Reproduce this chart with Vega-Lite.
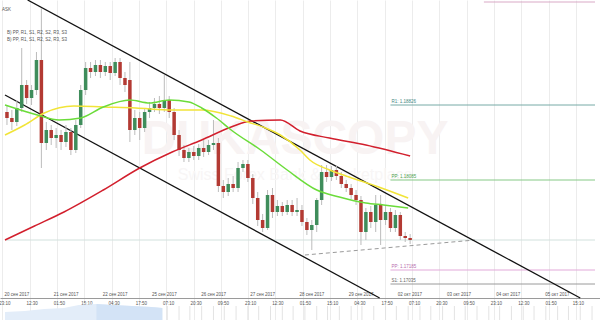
{
  "$schema": "https://vega.github.io/schema/vega-lite/v6.json",
  "width": 600,
  "height": 320,
  "autosize": "none",
  "padding": 0,
  "background": "white",
  "config": {"view": {"stroke": null}, "font": "Liberation Sans"},
  "resolve": {"axis": {"x": "independent"}},
  "datasets": {
    "candles": [
      {"t":1.44,"o":1.1876,"c":1.1870,"h":1.1883,"l":1.1863},
      {"t":3.84,"o":1.1870,"c":1.1866,"h":1.1878,"l":1.1858},
      {"t":6.24,"o":1.1866,"c":1.1880,"h":1.1888,"l":1.1862},
      {"t":8.64,"o":1.1880,"c":1.1903,"h":1.1940,"l":1.1876},
      {"t":11.04,"o":1.1903,"c":1.1890,"h":1.1908,"l":1.1884},
      {"t":13.44,"o":1.1890,"c":1.1898,"h":1.1903,"l":1.1883},
      {"t":15.84,"o":1.1898,"c":1.1928,"h":1.1936,"l":1.1893},
      {"t":18.24,"o":1.1928,"c":1.1845,"h":1.1980,"l":1.1820},
      {"t":20.64,"o":1.1845,"c":1.1858,"h":1.1866,"l":1.1838},
      {"t":23.04,"o":1.1858,"c":1.1850,"h":1.1863,"l":1.1843},
      {"t":25.44,"o":1.1850,"c":1.1853,"h":1.1860,"l":1.1840},
      {"t":27.84,"o":1.1853,"c":1.1846,"h":1.1858,"l":1.1838},
      {"t":30.24,"o":1.1846,"c":1.1856,"h":1.1863,"l":1.1841},
      {"t":32.64,"o":1.1856,"c":1.1838,"h":1.1860,"l":1.1833},
      {"t":35.04,"o":1.1838,"c":1.1863,"h":1.1868,"l":1.1835},
      {"t":37.44,"o":1.1863,"c":1.1898,"h":1.1903,"l":1.1860},
      {"t":39.84,"o":1.1898,"c":1.1920,"h":1.1926,"l":1.1893},
      {"t":42.24,"o":1.1920,"c":1.1916,"h":1.1926,"l":1.1910},
      {"t":44.64,"o":1.1916,"c":1.1923,"h":1.1928,"l":1.1912},
      {"t":47.04,"o":1.1923,"c":1.1916,"h":1.1928,"l":1.1910},
      {"t":49.44,"o":1.1916,"c":1.1922,"h":1.1926,"l":1.1912},
      {"t":51.84,"o":1.1922,"c":1.1915,"h":1.1926,"l":1.1908},
      {"t":54.24,"o":1.1915,"c":1.1926,"h":1.1930,"l":1.1912},
      {"t":56.64,"o":1.1926,"c":1.1910,"h":1.1930,"l":1.1903},
      {"t":59.04,"o":1.1910,"c":1.1903,"h":1.1916,"l":1.1896},
      {"t":61.44,"o":1.1908,"c":1.1858,"h":1.1926,"l":1.1846},
      {"t":63.84,"o":1.1858,"c":1.1870,"h":1.1878,"l":1.1853},
      {"t":66.24,"o":1.1870,"c":1.1860,"h":1.1876,"l":1.1848},
      {"t":68.64,"o":1.1860,"c":1.1876,"h":1.1880,"l":1.1856},
      {"t":71.04,"o":1.1876,"c":1.1880,"h":1.1886,"l":1.1870},
      {"t":73.44,"o":1.1880,"c":1.1884,"h":1.1890,"l":1.1876},
      {"t":75.84,"o":1.1884,"c":1.1880,"h":1.1892,"l":1.1874},
      {"t":78.24,"o":1.1880,"c":1.1888,"h":1.1913,"l":1.1876},
      {"t":80.64,"o":1.1888,"c":1.1876,"h":1.1892,"l":1.1870},
      {"t":83.04,"o":1.1876,"c":1.1853,"h":1.1880,"l":1.1848},
      {"t":85.44,"o":1.1853,"c":1.1838,"h":1.1858,"l":1.1832},
      {"t":87.84,"o":1.1838,"c":1.1830,"h":1.1843,"l":1.1826},
      {"t":90.24,"o":1.1830,"c":1.1836,"h":1.1840,"l":1.1826},
      {"t":92.64,"o":1.1836,"c":1.1832,"h":1.1842,"l":1.1828},
      {"t":95.04,"o":1.1832,"c":1.1840,"h":1.1844,"l":1.1828},
      {"t":97.44,"o":1.1840,"c":1.1836,"h":1.1848,"l":1.1831},
      {"t":99.84,"o":1.1836,"c":1.1843,"h":1.1848,"l":1.1833},
      {"t":102.24,"o":1.1843,"c":1.1845,"h":1.1868,"l":1.1838},
      {"t":104.64,"o":1.1845,"c":1.1802,"h":1.1850,"l":1.1796},
      {"t":107.04,"o":1.1802,"c":1.1796,"h":1.1808,"l":1.1790},
      {"t":109.44,"o":1.1796,"c":1.1804,"h":1.1810,"l":1.1792},
      {"t":111.84,"o":1.1804,"c":1.1800,"h":1.1812,"l":1.1796},
      {"t":114.24,"o":1.1800,"c":1.1820,"h":1.1826,"l":1.1796},
      {"t":116.64,"o":1.1820,"c":1.1824,"h":1.1828,"l":1.1816},
      {"t":119.04,"o":1.1824,"c":1.1810,"h":1.1828,"l":1.1806},
      {"t":121.44,"o":1.1810,"c":1.1790,"h":1.1814,"l":1.1784},
      {"t":123.84,"o":1.1790,"c":1.1768,"h":1.1796,"l":1.1762},
      {"t":126.24,"o":1.1768,"c":1.1760,"h":1.1774,"l":1.1756},
      {"t":128.64,"o":1.1760,"c":1.1793,"h":1.1798,"l":1.1758},
      {"t":131.04,"o":1.1793,"c":1.1776,"h":1.1800,"l":1.1770},
      {"t":133.44,"o":1.1776,"c":1.1782,"h":1.1788,"l":1.1772},
      {"t":135.84,"o":1.1782,"c":1.1776,"h":1.1786,"l":1.1772},
      {"t":138.24,"o":1.1776,"c":1.1783,"h":1.1788,"l":1.1773},
      {"t":140.64,"o":1.1783,"c":1.1776,"h":1.1788,"l":1.1772},
      {"t":143.04,"o":1.1776,"c":1.1778,"h":1.1790,"l":1.1772},
      {"t":145.44,"o":1.1778,"c":1.1766,"h":1.1783,"l":1.1762},
      {"t":147.84,"o":1.1766,"c":1.1758,"h":1.1770,"l":1.1753},
      {"t":150.24,"o":1.1758,"c":1.1763,"h":1.1768,"l":1.1738},
      {"t":152.64,"o":1.1763,"c":1.1788,"h":1.1790,"l":1.1756},
      {"t":155.04,"o":1.1788,"c":1.1816,"h":1.1823,"l":1.1783},
      {"t":157.44,"o":1.1816,"c":1.1811,"h":1.1823,"l":1.1806},
      {"t":159.84,"o":1.1811,"c":1.1818,"h":1.1822,"l":1.1807},
      {"t":162.24,"o":1.1818,"c":1.1812,"h":1.1822,"l":1.1808},
      {"t":164.64,"o":1.1812,"c":1.1804,"h":1.1816,"l":1.1800},
      {"t":167.04,"o":1.1804,"c":1.1800,"h":1.1808,"l":1.1796},
      {"t":169.44,"o":1.1800,"c":1.1793,"h":1.1804,"l":1.1789},
      {"t":171.84,"o":1.1793,"c":1.1788,"h":1.1798,"l":1.1783},
      {"t":174.24,"o":1.1788,"c":1.1756,"h":1.1792,"l":1.1743},
      {"t":176.64,"o":1.1756,"c":1.1776,"h":1.1780,"l":1.1748},
      {"t":179.04,"o":1.1776,"c":1.1766,"h":1.1782,"l":1.1760},
      {"t":181.44,"o":1.1766,"c":1.1783,"h":1.1793,"l":1.1756},
      {"t":183.84,"o":1.1783,"c":1.1768,"h":1.1793,"l":1.1743},
      {"t":186.24,"o":1.1768,"c":1.1776,"h":1.1783,"l":1.1763},
      {"t":188.64,"o":1.1776,"c":1.1760,"h":1.1780,"l":1.1756},
      {"t":191.04,"o":1.1760,"c":1.1773,"h":1.1778,"l":1.1756},
      {"t":193.44,"o":1.1773,"c":1.1752,"h":1.1776,"l":1.1748},
      {"t":195.84,"o":1.1752,"c":1.1750,"h":1.1756,"l":1.1746},
      {"t":198.24,"o":1.1750,"c":1.1748,"h":1.1754,"l":1.1744}
    ],
    "ma": [
      {"ma":"SMA 200","t":0.48,"p":1.1748},{"ma":"SMA 200","t":14.88,"p":1.1762},{"ma":"SMA 200","t":29.28,"p":1.1776},{"ma":"SMA 200","t":48.48,"p":1.1798},{"ma":"SMA 200","t":66.24,"p":1.1820},{"ma":"SMA 200","t":82.08,"p":1.1836},{"ma":"SMA 200","t":96.48,"p":1.1848},{"ma":"SMA 200","t":110.88,"p":1.1861},{"ma":"SMA 200","t":120.48,"p":1.1867},{"ma":"SMA 200","t":134.88,"p":1.1868},{"ma":"SMA 200","t":144.48,"p":1.1857},{"ma":"SMA 200","t":158.88,"p":1.1850},{"ma":"SMA 200","t":176.64,"p":1.1843},{"ma":"SMA 200","t":198.24,"p":1.1832},
      {"ma":"SMA 100","t":0.48,"p":1.1853},{"ma":"SMA 100","t":10.08,"p":1.1863},{"ma":"SMA 100","t":19.68,"p":1.1875},{"ma":"SMA 100","t":34.08,"p":1.1882},{"ma":"SMA 100","t":48.48,"p":1.1881},{"ma":"SMA 100","t":64.32,"p":1.1880},{"ma":"SMA 100","t":82.08,"p":1.1878},{"ma":"SMA 100","t":96.48,"p":1.1878},{"ma":"SMA 100","t":110.88,"p":1.1872},{"ma":"SMA 100","t":119.04,"p":1.1866},{"ma":"SMA 100","t":127.68,"p":1.1860},{"ma":"SMA 100","t":134.88,"p":1.1853},{"ma":"SMA 100","t":144.48,"p":1.1838},{"ma":"SMA 100","t":149.28,"p":1.1828},{"ma":"SMA 100","t":158.88,"p":1.1818},{"ma":"SMA 100","t":168.48,"p":1.1811},{"ma":"SMA 100","t":182.88,"p":1.1801},{"ma":"SMA 100","t":197.28,"p":1.1790},
      {"ma":"SMA 50","t":0.48,"p":1.1883},{"ma":"SMA 50","t":16.32,"p":1.1873},{"ma":"SMA 50","t":26.88,"p":1.1868},{"ma":"SMA 50","t":37.44,"p":1.1870},{"ma":"SMA 50","t":48.48,"p":1.1881},{"ma":"SMA 50","t":61.44,"p":1.1888},{"ma":"SMA 50","t":71.04,"p":1.1885},{"ma":"SMA 50","t":80.64,"p":1.1888},{"ma":"SMA 50","t":90.24,"p":1.1886},{"ma":"SMA 50","t":96.48,"p":1.1880},{"ma":"SMA 50","t":103.68,"p":1.1870},{"ma":"SMA 50","t":110.88,"p":1.1858},{"ma":"SMA 50","t":125.28,"p":1.1838},{"ma":"SMA 50","t":138.24,"p":1.1818},{"ma":"SMA 50","t":152.64,"p":1.1798},{"ma":"SMA 50","t":163.68,"p":1.1791},{"ma":"SMA 50","t":176.64,"p":1.1785},{"ma":"SMA 50","t":185.28,"p":1.1783},{"ma":"SMA 50","t":197.28,"p":1.1780}
    ],
    "pivots": [
      {"level":"R2","label":"R2: 1.19855","t":234.24,"t2":288.48,"p":1.1986},
      {"level":"R1","label":"R1: 1.18826","t":188.64,"t2":288.48,"p":1.1883},
      {"level":"PP","label":"PP: 1.18085","t":188.64,"t2":288.48,"p":1.1808},
      {"level":"PPw","label":"PP: 1.17185","t":188.64,"t2":288.48,"p":1.1718},
      {"level":"S1","label":"S1: 1.17035","t":188.64,"t2":288.48,"p":1.1704}
    ],
    "channel": [
      {"t":11.52,"p":1.1988,"t2":281.28,"p2":1.1690},
      {"t":0.48,"p":1.1893,"t2":183.36,"p2":1.1690}
    ],
    "panel": [
      {"t":0.48,"p":1.1676},{"t":10.08,"p":1.1677},{"t":19.68,"p":1.1679},{"t":29.28,"p":1.1680},{"t":36.48,"p":1.1683},{"t":45.12,"p":1.1684},{"t":52.8,"p":1.1683},{"t":62.4,"p":1.1682},{"t":72.0,"p":1.1681},{"t":77.28,"p":1.1680}
    ],
    "volume": [
      {"t":79.68},{"t":85.44},{"t":90.72},{"t":96.48},{"t":102.24},{"t":107.52},{"t":113.28},{"t":119.04},{"t":124.32},{"t":130.08},{"t":135.84},{"t":141.12},{"t":146.88},{"t":152.64},{"t":157.92},{"t":163.68},{"t":169.44},{"t":174.72},{"t":180.48},{"t":186.24},{"t":191.52},{"t":197.28},{"t":203.04},{"t":208.32},{"t":214.08},{"t":219.84},{"t":225.12},{"t":230.88},{"t":236.64},{"t":241.92},{"t":247.68},{"t":253.44},{"t":258.72},{"t":264.48},{"t":270.24},{"t":275.52},{"t":281.28},{"t":287.04}
    ]
  },
  "layer": [
    {
      "encoding": {
        "x": {
          "field": "t", "type": "quantitative",
          "scale": {"domain": [0.48, 288.48], "nice": false, "zero": false},
          "axis": {
            "title": null, "orient": "bottom",
            "values": [0, 24, 48, 72, 96, 120, 144, 168, 192, 216, 240, 264],
            "labelExpr": "['20 сен 2017','21 сен 2017','22 сен 2017','25 сен 2017','26 сен 2017','27 сен 2017','28 сен 2017','29 сен 2017','02 окт 2017','03 окт 2017','04 окт 2017','05 окт 2017'][round(datum.value/24)]",
            "grid": false, "ticks": false, "domain": true, "domainColor": "#9a9a9a", "domainWidth": 1,
            "offset": -22, "labelPadding": -1.5, "labelBaseline": "bottom", "labelAlign": "left",
            "labelFontSize": 4.5, "labelColor": "#555555", "labelOverlap": false, "labelFlush": false
          }
        }
      },
      "resolve": {"axis": {"x": "shared"}, "scale": {"color": "independent"}},
      "layer": [
        {
          "data": {"values": [{"t": 0.48, "t2": 288.48, "p": 1.1748}]},
          "mark": {"type": "rule", "color": "#d2e1dd", "strokeWidth": 1},
          "encoding": {
            "x2": {"field": "t2"},
            "y": {"field": "p", "type": "quantitative",
              "scale": {"domain": [1.1668, 1.1988], "nice": false, "zero": false},
              "axis": {"title": null, "values": [1.1975, 1.1935, 1.1896, 1.1856, 1.1817, 1.1777, 1.1738, 1.1698], "labels": false, "ticks": false, "domain": false, "grid": true, "gridColor": "#efefef", "gridWidth": 1}}
          }
        },
        {
          "data": {"values": [{"t": 142.1, "p": 1.1848, "txt": "DUKASCOPY"}]},
          "mark": {"type": "text", "fontSize": 48, "fontWeight": "bold", "color": "#f8f3f3", "align": "center", "baseline": "middle"},
          "encoding": {
            "y": {"field": "p", "type": "quantitative", "scale": {"domain": [1.1668, 1.1988], "nice": false, "zero": false}, "axis": null},
            "text": {"field": "txt"}
          }
        },
        {
          "data": {"values": [{"t": 142.1, "p": 1.1813, "txt": "Swiss Forex Bank & Marketplace"}]},
          "mark": {"type": "text", "fontSize": 16, "color": "#f8f6f6", "align": "center", "baseline": "middle"},
          "encoding": {
            "y": {"field": "p", "type": "quantitative", "scale": {"domain": [1.1668, 1.1988], "nice": false, "zero": false}, "axis": null},
            "text": {"field": "txt"}
          }
        },
        {
          "data": {"name": "panel"},
          "mark": {"type": "area", "color": "#e3edf9"},
          "encoding": {
            "y": {"field": "p", "type": "quantitative", "scale": {"domain": [1.1668, 1.1988], "nice": false, "zero": false}, "axis": null},
            "y2": {"datum": 1.1668}
          }
        },
        {
          "data": {"name": "panel"},
          "transform": [{"filter": "datum.t >= 45.12"}],
          "mark": {"type": "area", "color": "#d3e3f6"},
          "encoding": {
            "y": {"field": "p", "type": "quantitative", "scale": {"domain": [1.1668, 1.1988], "nice": false, "zero": false}, "axis": null},
            "y2": {"datum": 1.1668}
          }
        },
        {
          "data": {"name": "pivots"},
          "mark": {"type": "rule", "strokeWidth": 1},
          "encoding": {
            "x2": {"field": "t2"},
            "y": {"field": "p", "type": "quantitative", "scale": {"domain": [1.1668, 1.1988], "nice": false, "zero": false}, "axis": null},
            "color": {"field": "level", "type": "nominal", "legend": null,
              "scale": {"domain": ["R2", "R1", "PP", "PPw", "S1"], "range": ["#d9a9c6", "#76aaa6", "#86c986", "#e2a9d9", "#9a9a9a"]}}
          }
        },
        {
          "data": {"name": "pivots"},
          "mark": {"type": "text", "fontSize": 4.5, "align": "left", "baseline": "bottom", "dx": 1, "dy": -1},
          "encoding": {
            "y": {"field": "p", "type": "quantitative", "scale": {"domain": [1.1668, 1.1988], "nice": false, "zero": false}, "axis": null},
            "text": {"field": "label"},
            "color": {"field": "level", "type": "nominal", "legend": null,
              "scale": {"domain": ["R2", "R1", "PP", "PPw", "S1"], "range": ["#b9799e", "#3f8883", "#4f9f4f", "#b86cae", "#666666"]}}
          }
        },
        {
          "data": {"values": [{"t": 146.88, "p": 1.1733, "t2": 229.92, "p2": 1.1748}]},
          "mark": {"type": "rule", "color": "#9a9a9a", "strokeWidth": 1, "strokeDash": [4, 3]},
          "encoding": {
            "x2": {"field": "t2"},
            "y": {"field": "p", "type": "quantitative", "scale": {"domain": [1.1668, 1.1988], "nice": false, "zero": false}, "axis": null},
            "y2": {"field": "p2"}
          }
        },
        {
          "data": {"name": "channel"},
          "mark": {"type": "rule", "color": "#111111", "strokeWidth": 1.3},
          "encoding": {
            "x2": {"field": "t2"},
            "y": {"field": "p", "type": "quantitative", "scale": {"domain": [1.1668, 1.1988], "nice": false, "zero": false}, "axis": null},
            "y2": {"field": "p2"}
          }
        },
        {
          "data": {"name": "candles"},
          "mark": {"type": "rule", "color": "#bcbcbc", "strokeWidth": 1},
          "encoding": {
            "y": {"field": "l", "type": "quantitative", "scale": {"domain": [1.1668, 1.1988], "nice": false, "zero": false}, "axis": null},
            "y2": {"field": "h"}
          }
        },
        {
          "data": {"name": "candles"},
          "mark": {"type": "bar", "size": 3.5},
          "encoding": {
            "y": {"field": "o", "type": "quantitative", "scale": {"domain": [1.1668, 1.1988], "nice": false, "zero": false}, "axis": null},
            "y2": {"field": "c"},
            "color": {"condition": {"test": "datum.c >= datum.o", "value": "#3f8d5b"}, "value": "#b33a33"}
          }
        },
        {
          "data": {"name": "ma"},
          "mark": {"type": "line", "strokeWidth": 1.5, "interpolate": "monotone"},
          "encoding": {
            "y": {"field": "p", "type": "quantitative", "scale": {"domain": [1.1668, 1.1988], "nice": false, "zero": false}, "axis": null},
            "color": {"field": "ma", "type": "nominal", "legend": null,
              "scale": {"domain": ["SMA 200", "SMA 100", "SMA 50"], "range": ["#d21f2d", "#f1e438", "#6bdc3a"]}}
          }
        },
        {
          "data": {"values": [
            {"t": -0.96, "p": 1.1978, "txt": "ASK"},
            {"t": 1.44, "p": 1.1955, "txt": "B) PP, R1, S1, R2, S2, R3, S3"},
            {"t": 1.44, "p": 1.1948, "txt": "B) PP, R1, S1, R2, S2, R3, S3"}
          ]},
          "mark": {"type": "text", "fontSize": 4.5, "align": "left", "baseline": "middle", "color": "#555555"},
          "encoding": {
            "y": {"field": "p", "type": "quantitative", "scale": {"domain": [1.1668, 1.1988], "nice": false, "zero": false}, "axis": null},
            "text": {"field": "txt"}
          }
        }
      ]
    },
    {
      "data": {"name": "volume"},
      "mark": {"type": "rule", "color": "#e3e3e3", "strokeWidth": 1},
      "encoding": {
        "x": {
          "field": "t", "type": "quantitative",
          "scale": {"domain": [0.48, 288.48], "nice": false, "zero": false},
          "axis": {
            "title": null, "orient": "bottom",
            "values": [-0.8333, 12.5, 25.8333, 39.1667, 52.5, 65.8333, 79.1667, 92.5, 105.8333, 119.1667, 132.5, 145.8333, 159.1667, 172.5, 185.8333, 199.1667, 212.5, 225.8333, 239.1667, 252.5, 265.8333, 279.1667],
            "labelExpr": "['23:10','12:30','01:50','15:10','04:30','17:50','07:10','20:30','09:50','23:10','12:30','01:50','15:10','04:30','17:50','07:10','20:30','09:50','23:10','12:30','01:50','15:10'][round((datum.value+0.8333)/13.3333)]",
            "grid": true, "gridColor": "#ececec", "ticks": false, "domain": false,
            "offset": -22, "labelPadding": 2, "labelOffset": 2,
            "labelFontSize": 4.5, "labelColor": "#555555", "labelOverlap": false, "labelFlush": false
          }
        },
        "y": {"datum": 1.1682, "type": "quantitative", "scale": {"domain": [1.1668, 1.1988], "nice": false, "zero": false}, "axis": null},
        "y2": {"datum": 1.1668}
      }
    }
  ]
}
